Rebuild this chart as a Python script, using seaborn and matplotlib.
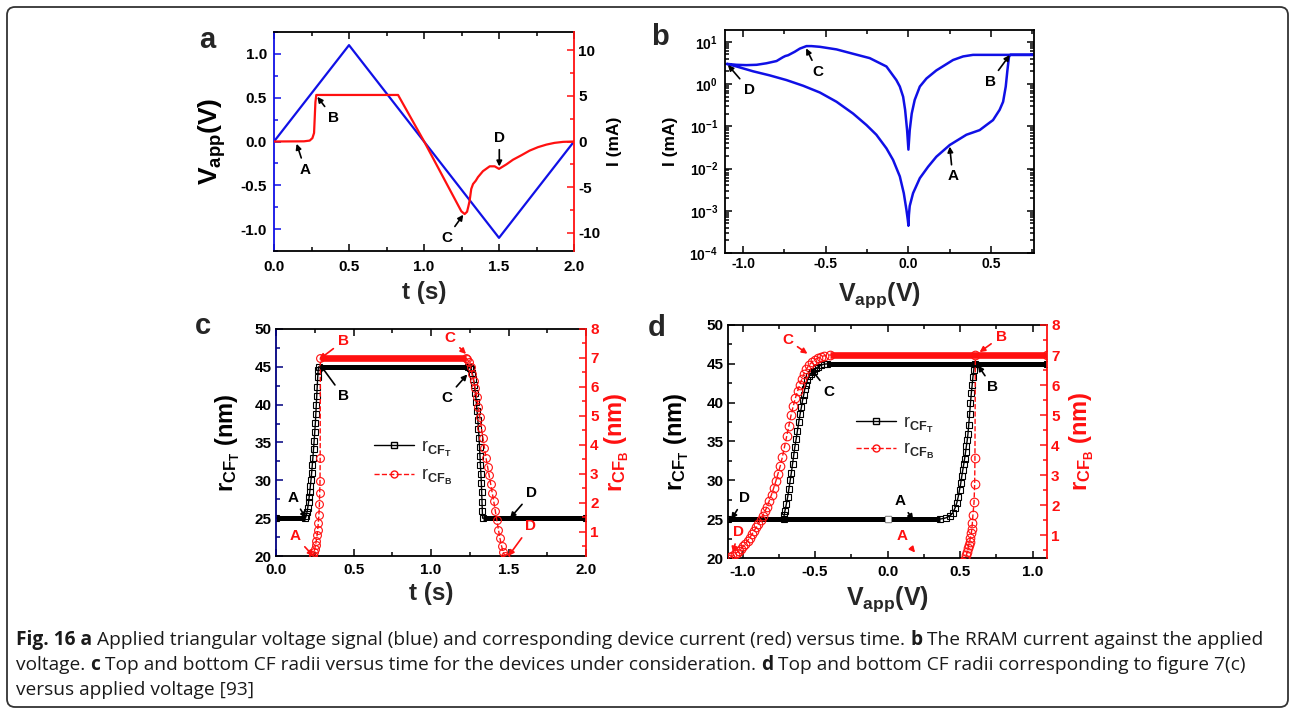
import numpy as np
import pandas as pd
import matplotlib
matplotlib.use("Agg")
import matplotlib.pyplot as plt
import seaborn as sns
from matplotlib.ticker import MultipleLocator, FixedLocator, FuncFormatter, LogLocator, NullFormatter
from matplotlib.patches import FancyBboxPatch
from matplotlib.lines import Line2D

# ---------------- data ----------------
# panel a : applied voltage (V) and current (mA) versus time (s)
a_t_volt = [0.0, 0.5, 1.5, 2.0]
a_volt = [0.0, 1.1, -1.1, 0.0]
a_t_cur = [0.0, 0.20, 0.238, 0.256, 0.267, 0.271, 0.276, 0.282, 0.827, 1.0, 1.249, 1.271,
           1.287, 1.296, 1.304, 1.315, 1.327, 1.345, 1.36, 1.393, 1.438, 1.471, 1.50,
           1.55, 1.593, 1.65, 1.704, 1.76, 1.816, 1.87, 1.927, 2.0]
a_cur = [0.0, 0.02, 0.1, 0.37, 0.93, 2.4, 4.3, 5.1, 5.1, 0.03, -7.65, -7.95,
         -7.7, -7.1, -6.5, -5.2, -4.66, -4.3, -3.9, -3.25, -2.72, -2.72, -3.0,
         -2.5, -2.0, -1.5, -1.0, -0.62, -0.34, -0.15, -0.04, 0.0]

# panel b : I-V loop (V, mA) in sweep order
b_volt = [0.0, 0.003, 0.008, 0.028, 0.069, 0.119, 0.169, 0.25, 0.351, 0.431, 0.472, 0.512,
          0.552, 0.573, 0.589, 0.599, 0.609, 0.617, 1.1, 0.391, 0.331, 0.27, 0.169, 0.109,
          0.069, 0.038, 0.02, 0.008, 0.0, -0.008, -0.02, -0.032, -0.052, -0.073, -0.133,
          -0.234, -0.335, -0.435, -0.536, -0.587, -0.617, -0.657, -0.688, -0.728, -0.745,
          -0.76, -0.798, -0.859, -0.919, -0.98, -1.04, -1.1, -1.04, -0.94, -0.839, -0.738,
          -0.637, -0.536, -0.435, -0.335, -0.254, -0.194, -0.133, -0.093, -0.052, -0.028,
          -0.012, -0.004, 0.0]
b_cur = [4.5e-4, 8e-4, 1.3e-3, 2.6e-3, 5.9e-3, 0.011, 0.019, 0.036, 0.063, 0.081, 0.107, 0.14,
         0.245, 0.38, 0.87, 2.1, 4.5, 4.9, 4.9, 4.9, 4.5, 3.7, 2.1, 1.35,
         0.87, 0.42, 0.2, 0.081, 0.028, 0.081, 0.245, 0.5, 0.87, 1.24, 2.6,
         4.1, 5.2, 6.6, 7.6, 7.9, 7.9, 6.9, 5.8, 4.8, 4.6,
         4.3, 3.5, 3.1, 2.85, 2.8, 2.85, 3.0, 2.6, 2.0, 1.6, 1.24,
         0.91, 0.63, 0.38, 0.2, 0.107, 0.063, 0.03, 0.016, 6.5e-3, 2.6e-3,
         1.05e-3, 6.2e-4, 4.5e-4]

# panel c : CF radii versus time
c_t_top = [0.0, 0.19, 0.195, 0.2, 0.205, 0.21, 0.214, 0.218, 0.222, 0.226, 0.23, 0.234, 0.238,
           0.242, 0.246, 0.25, 0.254, 0.257, 0.26, 0.263, 0.266, 0.269, 0.272, 0.275,
           1.24, 1.25, 1.258, 1.266, 1.274, 1.28, 1.286, 1.292, 1.297, 1.302, 1.306, 1.31,
           1.313, 1.316, 1.319, 1.322, 1.325, 1.327, 1.329, 1.331, 1.333, 2.0]
c_r_top = [25.0, 25.0, 25.3, 25.8, 26.4, 27.1, 27.8, 28.5, 29.3, 30.1, 31.0, 32.0, 33.0,
           34.1, 35.2, 36.4, 37.6, 38.8, 40.0, 41.2, 42.4, 43.6, 44.6, 45.0,
           45.0, 44.9, 44.7, 44.2, 43.4, 42.6, 41.6, 40.4, 39.2, 38.0, 36.8, 35.6,
           34.4, 33.2, 32.0, 30.8, 29.6, 28.4, 27.2, 26.0, 25.0, 25.0]
c_t_bot = [0.236, 0.241, 0.245, 0.25, 0.255, 0.26, 0.265, 0.269, 0.273, 0.277, 0.28, 0.282,
           0.284, 0.285, 0.286, 1.225, 1.235, 1.245, 1.255, 1.265, 1.275, 1.285, 1.295, 1.305,
           1.315, 1.325, 1.335, 1.345, 1.355, 1.365, 1.375, 1.385, 1.395, 1.405, 1.415,
           1.425, 1.435, 1.445, 1.455, 1.465, 1.475, 1.485]
c_r_bot = [0.1, 0.2, 0.3, 0.42, 0.55, 0.7, 0.88, 1.08, 1.31, 1.6, 1.95, 2.35,
           2.75, 3.55, 7.0, 7.0, 6.95, 6.85, 6.68, 6.45, 6.2, 5.95, 5.65, 5.32,
           4.95, 4.6, 4.25, 3.9, 3.55, 3.25, 2.95, 2.65, 2.35, 2.05, 1.72,
           1.4, 1.08, 0.78, 0.52, 0.32, 0.18, 0.1]

# panel d : CF radii versus applied voltage
d_v_top = [0.0, 0.36, 0.4, 0.43, 0.45, 0.465, 0.478, 0.488, 0.497, 0.505, 0.512, 0.519, 0.526,
           0.532, 0.538, 0.544, 0.55, 0.555, 0.56, 0.566, 0.572, 0.578, 0.584, 0.589, 0.595,
           0.601, 1.1, -0.415, -0.44, -0.462, -0.48, -0.495, -0.51, -0.52, -0.53, -0.54,
           -0.552, -0.561, -0.57, -0.578, -0.586, -0.594, -0.602, -0.612, -0.621, -0.63,
           -0.639, -0.647, -0.655, -0.663, -0.671, -0.68, -0.689, -0.698, -0.707, -0.712,
           -0.716, -1.1, 0.0]
d_r_top = [25.0, 25.0, 25.15, 25.4, 25.8, 26.4, 27.1, 27.9, 28.8, 29.6, 30.5, 31.3, 32.1,
           32.8, 33.6, 34.4, 35.2, 36.0, 37.1, 38.5, 39.9, 41.2, 42.3, 43.3, 44.2,
           45.0, 45.0, 45.0, 44.95, 44.8, 44.6, 44.4, 44.1, 43.9, 43.75, 43.4,
           42.9, 42.3, 41.8, 41.0, 40.3, 39.4, 38.6, 37.5, 36.4, 35.3,
           34.3, 33.2, 32.1, 31.0, 30.0, 28.9, 27.8, 26.9, 26.1, 25.6,
           25.0, 25.0, 25.0]
d_v_bot = [0.52, 0.535, 0.544, 0.55, 0.555, 0.56, 0.566, 0.572, 0.578, 0.582, 0.585, 0.589,
           0.597, 0.601, 0.603, 0.606, 1.1, -0.40, -0.44, -0.46, -0.48, -0.50, -0.52, -0.54,
           -0.56, -0.575, -0.59, -0.605, -0.62, -0.635, -0.65, -0.665, -0.68, -0.695, -0.71,
           -0.725, -0.74, -0.755, -0.77, -0.785, -0.80, -0.815, -0.83, -0.845, -0.86, -0.875,
           -0.89, -0.905, -0.92, -0.935, -0.95, -0.965, -0.98, -0.995, -1.01, -1.025, -1.04,
           -1.055, -1.07, -1.085, -1.10]
d_r_bot = [0.1, 0.2, 0.33, 0.45, 0.56, 0.67, 0.78, 0.92, 1.06, 1.22, 1.39, 1.67,
           2.11, 2.7, 3.56, 7.0, 7.0, 7.0, 6.97, 6.94, 6.9, 6.85, 6.77, 6.67,
           6.53, 6.38, 6.2, 6.0, 5.8, 5.57, 5.3, 5.0, 4.65, 4.3, 3.95,
           3.6, 3.3, 3.05, 2.8, 2.57, 2.35, 2.15, 1.95, 1.8, 1.65, 1.51,
           1.38, 1.26, 1.15, 1.03, 0.92, 0.82, 0.72, 0.63, 0.55, 0.48, 0.42,
           0.36, 0.3, 0.26, 0.22]

# plateaus: (start, end, level)
c_top_flat = [(0.0, 0.19, 25.0), (0.275, 1.24, 45.0), (1.333, 2.0, 25.0)]
c_bot_flat = [(0.286, 1.225, 7.0)]
d_top_flat = [(-1.1, 0.36, 25.0), (-0.415, 1.1, 45.0)]
d_bot_flat = [(-0.40, 1.1, 7.0)]

legend_labels = [r"r$_{\mathrm{CF}_{\mathrm{T}}}$", r"r$_{\mathrm{CF}_{\mathrm{B}}}$"]

# ---------------- style ----------------
sns.set_theme(style="ticks")
plt.rcParams.update({
    "font.family": ["Liberation Sans", "DejaVu Sans"],
    "font.weight": "bold",
    "mathtext.fontset": "custom",
    "mathtext.rm": "Liberation Sans",
    "mathtext.bf": "Liberation Sans:bold",
    "mathtext.it": "Liberation Sans:italic",
    "axes.unicode_minus": False,
    "axes.linewidth": 1.3,
    "axes.edgecolor": "black",
    "xtick.color": "black",
    "ytick.color": "black",
    "axes.labelweight": "bold",
})

W, H = 1290, 710
fig = plt.figure(figsize=(W / 100, H / 100), dpi=100)
fig.patch.set_facecolor("white")

BLUE = "#1010e6"
RED = "#ff1010"
NAVY = "#000080"


def add_ax(l, t, r, b):
    return fig.add_axes([l / W, 1 - b / H, (r - l) / W, (b - t) / H])


def base_ticks(ax, size=10.5, xpad=5, ypad=4):
    ax.tick_params(which="both", direction="in", labelsize=size, width=1.1)
    ax.tick_params(axis="x", pad=xpad)
    ax.tick_params(axis="y", pad=ypad)
    ax.tick_params(which="major", length=5)
    ax.tick_params(which="minor", length=3)


def set_xlabel(ax, text, y, size=17):
    ax.set_xlabel(text, fontsize=size, fontweight="bold")
    ax.xaxis.label.set_va("center")
    ax.xaxis.set_label_coords(0.5, y)


def set_ylabel(ax, text, x, size=17, color="black"):
    ax.set_ylabel(text, fontsize=size, fontweight="bold", color=color)
    ax.yaxis.label.set_va("center")
    ax.yaxis.label.set_ha("center")
    ax.yaxis.set_label_coords(x, 0.5)


def ann(host, coord_ax, text, tip, lab, color="black", size=11):
    host.annotate(text, xy=tip, xytext=lab, xycoords=coord_ax.transData,
                  textcoords=coord_ax.transData, color=color, fontsize=size,
                  fontweight="bold", ha="center", va="center", zorder=10,
                  arrowprops=dict(arrowstyle="-|>", color=color, lw=1.2,
                                  shrinkA=1, shrinkB=0, mutation_scale=8))


def twin(ax, left_color, right_color):
    ax2 = ax.twinx()
    for s in ("left", "top", "bottom"):
        ax2.spines[s].set_visible(False)
    ax.spines["right"].set_visible(False)
    ax.spines["left"].set_color(left_color)
    ax2.spines["right"].set_color(right_color)
    ax2.spines["right"].set_linewidth(1.3)
    return ax2


# ---------------- panel a ----------------
axa = add_ax(274, 32, 574, 251)
axa2 = twin(axa, BLUE, RED)
sns.lineplot(x=a_t_volt, y=a_volt, ax=axa, color=BLUE, lw=1.6, sort=False, estimator=None)
sns.lineplot(x=a_t_cur, y=a_cur, ax=axa2, color=RED, lw=1.6, sort=False, estimator=None)
axa.set_xlim(0, 2)
axa.set_ylim(-1.25, 1.25)
axa2.set_ylim(-12, 12)
axa.xaxis.set_major_locator(MultipleLocator(0.5))
axa.xaxis.set_minor_locator(MultipleLocator(0.25))
axa.yaxis.set_major_locator(MultipleLocator(0.5))
axa.yaxis.set_minor_locator(MultipleLocator(0.25))
axa.xaxis.set_major_formatter(FuncFormatter(lambda v, p: f"{v:.1f}"))
axa.yaxis.set_major_formatter(FuncFormatter(lambda v, p: f"{v:.1f}"))
axa2.yaxis.set_major_locator(MultipleLocator(5))
axa2.yaxis.set_minor_locator(MultipleLocator(2.5))
axa2.yaxis.set_major_formatter(FuncFormatter(lambda v, p: f"{v:.0f}"))
base_ticks(axa, 11, xpad=6.5, ypad=5)
base_ticks(axa2, 11, ypad=3)
axa.tick_params(axis="x", which="both", top=True)
axa.tick_params(axis="y", which="both", color=BLUE)
axa2.tick_params(axis="y", which="both", color=RED)
set_xlabel(axa, "t (s)", -0.19, 17.5)
set_ylabel(axa, r"$\mathbf{V_{app}}$(V)", -0.205, 19)
set_ylabel(axa2, "I (mA)", 1.135, 12.5)
ann(axa2, axa, "A", (0.151, -0.026), (0.207, -0.32))
ann(axa2, axa, "B", (0.289, 0.51), (0.396, 0.27))
ann(axa2, axa, "C", (1.262, -0.836), (1.151, -1.10))
ann(axa2, axa, "D", (1.502, -0.285), (1.502, 0.04))

# ---------------- panel b ----------------
axb = add_ax(725, 30, 1034, 253)
axb.set_yscale("log")
sns.lineplot(x=b_volt, y=b_cur, ax=axb, color=BLUE, lw=1.8, sort=False, estimator=None)
axb.set_xlim(-1.11, 0.76)
axb.set_ylim(1e-4, 19)
axb.xaxis.set_major_locator(MultipleLocator(0.5))
axb.xaxis.set_minor_locator(MultipleLocator(0.25))
axb.xaxis.set_major_formatter(FuncFormatter(lambda v, p: f"{v:.1f}"))
axb.yaxis.set_major_locator(LogLocator(base=10, subs=(1.0,), numticks=10))
axb.yaxis.set_minor_locator(LogLocator(base=10, subs=np.arange(2, 10), numticks=10))
axb.yaxis.set_minor_formatter(NullFormatter())
axb.yaxis.set_major_formatter(FuncFormatter(lambda v, p: r"$\mathbf{10^{%d}}$" % int(round(np.log10(v)))))
base_ticks(axb, 10, xpad=3, ypad=5)
axb.tick_params(which="both", top=True, right=True)
set_xlabel(axb, r"$\mathbf{V_{app}}$(V)", -0.19, 18)
set_ylabel(axb, "I (mA)", -0.175, 12.5)
ann(axb, axb, "C", (-0.619, 6.98), (-0.549, 1.95))
ann(axb, axb, "D", (-1.092, 2.82), (-0.962, 0.72))
ann(axb, axb, "B", (0.613, 4.85), (0.494, 1.13))
ann(axb, axb, "A", (0.25, 0.033), (0.268, 0.0065))


# ---------------- helpers for c, d ----------------
def draw_series(ax, xs, ys, flats, color, marker, ls, band_lw, ms):
    for s, e, lv in flats:
        sns.lineplot(x=[s, e], y=[lv, lv], ax=ax, color=color, lw=band_lw,
                     sort=False, estimator=None, solid_capstyle="butt")
    sns.lineplot(x=xs, y=ys, ax=ax, color=color, lw=1.0, linestyle=ls,
                 sort=False, estimator=None, marker=marker, markersize=ms,
                 markerfacecolor="none", markeredgecolor=color, markeredgewidth=0.8)


def legend_cd(ax, anchor, spacing):
    handles = [
        Line2D([], [], color="black", lw=1.0, marker="s", markersize=5,
               markerfacecolor="none", markeredgecolor="black"),
        Line2D([], [], color=RED, lw=1.0, ls="--", marker="o", markersize=5,
               markerfacecolor="none", markeredgecolor=RED),
    ]
    ax.legend(handles, legend_labels, loc="center left", bbox_to_anchor=anchor,
              frameon=False, borderpad=0, handlelength=2.2, handletextpad=0.4,
              labelspacing=spacing, numpoints=1,
              prop={"size": 13, "weight": "normal"})


def cd_axes(ax, ax2, left_color):
    ax.set_ylim(20, 50)
    ax.yaxis.set_major_locator(MultipleLocator(5))
    ax.yaxis.set_minor_locator(MultipleLocator(2.5))
    ax2.yaxis.set_major_locator(FixedLocator([1, 2, 3, 4, 5, 6, 7, 8]))
    ax2.yaxis.set_minor_locator(MultipleLocator(0.5))
    ax2.yaxis.set_major_formatter(FuncFormatter(lambda v, p: f"{v:.0f}"))
    ax.xaxis.set_major_locator(MultipleLocator(0.5))
    ax.xaxis.set_minor_locator(MultipleLocator(0.25))
    ax.xaxis.set_major_formatter(FuncFormatter(lambda v, p: f"{v:.1f}"))
    base_ticks(ax, 11, xpad=5, ypad=3)
    base_ticks(ax2, 11, ypad=3)
    ax.tick_params(axis="x", which="both", top=True)
    ax.tick_params(axis="y", which="both", color=left_color)
    ax2.tick_params(axis="y", which="both", color=RED, labelcolor=RED)
    ax.yaxis.set_major_formatter(FuncFormatter(lambda v, p: f"{v:.0f}"))


# ---------------- panel c ----------------
axc = add_ax(276, 329, 586, 556)
axc2 = twin(axc, NAVY, RED)
draw_series(axc, c_t_top, c_r_top, c_top_flat, "black", "s", "-", 3.6, 4.2)
draw_series(axc2, c_t_bot, c_r_bot, c_bot_flat, RED, "o", "--", 4.8, 5.6)
axc.set_xlim(0, 2)
axc2.set_ylim(0.17, 8)
cd_axes(axc, axc2, NAVY)
set_xlabel(axc, "t (s)", -0.165, 17.5)
set_ylabel(axc, r"$\mathbf{r_{CF_T}}$ (nm)", -0.155, 17)
set_ylabel(axc2, r"$\mathbf{r_{CF_B}}$ (nm)", 1.10, 17, color=RED)
legend_cd(axc, (0.287, 0.41), 0.45)
ann(axc2, axc, "B", (0.284, 45.3), (0.434, 41.1))
ann(axc2, axc, "C", (1.234, 44.0), (1.101, 40.9))
ann(axc2, axc, "A", (0.194, 25.0), (0.112, 27.7))
ann(axc2, axc, "D", (1.51, 25.0), (1.65, 28.3))
ann(axc2, axc, "B", (0.28, 46.0), (0.434, 48.4), color=RED)
ann(axc2, axc, "C", (1.226, 46.7), (1.123, 48.8), color=RED)
ann(axc2, axc, "A", (0.241, 20.0), (0.123, 22.6), color=RED)
ann(axc2, axc, "D", (1.50, 20.0), (1.639, 23.9), color=RED)

# ---------------- panel d ----------------
axd = add_ax(728, 325, 1047, 558)
axd2 = twin(axd, "black", RED)
draw_series(axd, d_v_top, d_r_top, d_top_flat, "black", "s", "-", 3.6, 4.2)
draw_series(axd2, d_v_bot, d_r_bot, d_bot_flat, RED, "o", "--", 4.8, 6.2)
axd.set_xlim(-1.1, 1.1)
axd2.set_ylim(0.24, 8)
cd_axes(axd, axd2, "black")
sns.scatterplot(x=[0.0], y=[25.0], ax=axd, marker="s", s=22, color="white",
                edgecolor="#999999", linewidth=0.6, zorder=5)
set_xlabel(axd, r"$\mathbf{V_{app}}$(V)", -0.175, 18)
set_ylabel(axd, r"$\mathbf{r_{CF_T}}$ (nm)", -0.16, 17)
set_ylabel(axd2, r"$\mathbf{r_{CF_B}}$ (nm)", 1.11, 17, color=RED)
legend_cd(axd, (0.373, 0.515), 0.35)
ann(axd2, axd, "C", (-0.53, 44.4), (-0.404, 41.4))
ann(axd2, axd, "B", (0.624, 44.8), (0.726, 42.0))
ann(axd2, axd, "A", (0.178, 24.9), (0.087, 27.3))
ann(axd2, axd, "D", (-1.077, 25.0), (-0.986, 27.7))
ann(axd2, axd, "C", (-0.552, 46.3), (-0.689, 48.1), color=RED)
ann(axd2, axd, "B", (0.635, 46.5), (0.783, 48.5), color=RED)
ann(axd2, axd, "A", (0.19, 20.7), (0.099, 22.8), color=RED)
ann(axd2, axd, "D", (-1.066, 20.7), (-1.031, 23.3), color=RED)

# ---------------- panel letters ----------------
for letter, (px, py) in {"a": (207, 40), "b": (660, 37), "c": (203, 326), "d": (657, 328)}.items():
    fig.text(px / W, 1 - py / H, letter, fontsize=21, fontweight="bold",
             ha="center", va="center")

# ---------------- caption ----------------
cap_lines = [
    [("Fig. 16 a", True), ("Applied triangular voltage signal (blue) and corresponding device current (red) versus time.", False),
     ("b", True), ("The RRAM current against the applied", False)],
    [("voltage.", False), ("c", True), ("Top and bottom CF radii versus time for the devices under consideration.", False),
     ("d", True), ("Top and bottom CF radii corresponding to figure 7(c)", False)],
    [("versus applied voltage [93]", False)],
]
renderer = fig.canvas.get_renderer()
CAP_FONT = ["Open Sans", "DejaVu Sans"]


def text_width(s, size, bold):
    t = fig.text(0, 0, s, fontsize=size, fontweight="bold" if bold else "normal", family=CAP_FONT)
    w = t.get_window_extent(renderer).width
    t.remove()
    return w


def line_width(runs, size):
    sp = text_width("a a", size, False) - text_width("aa", size, False)
    return sum(text_width(s, size, b) for s, b in runs) + sp * (len(runs) - 1), sp


CAP_X0, CAP_X1 = 16, 1262
w10, _ = line_width(cap_lines[0], 10)
cap_size = 10 * (CAP_X1 - CAP_X0) / w10
for runs, base in zip(cap_lines, [645, 670, 695]):
    _, sp = line_width(runs, cap_size)
    x = CAP_X0
    for s, b in runs:
        t = fig.text(x / W, 1 - base / H, s, fontsize=cap_size, fontweight="bold" if b else "normal",
                     family=CAP_FONT, ha="left", va="baseline", color="#1a1a1a")
        x += t.get_window_extent(renderer).width + sp

# ---------------- frame ----------------
frame = FancyBboxPatch((7 / 100, 3 / 100), (1288 - 7) / 100, (707 - 7) / 100,
                       boxstyle="round,pad=0,rounding_size=0.08", transform=fig.dpi_scale_trans,
                       facecolor="none", edgecolor="#333333", lw=1.3)
fig.patches.append(frame)

fig.savefig("out.png", dpi=100)
